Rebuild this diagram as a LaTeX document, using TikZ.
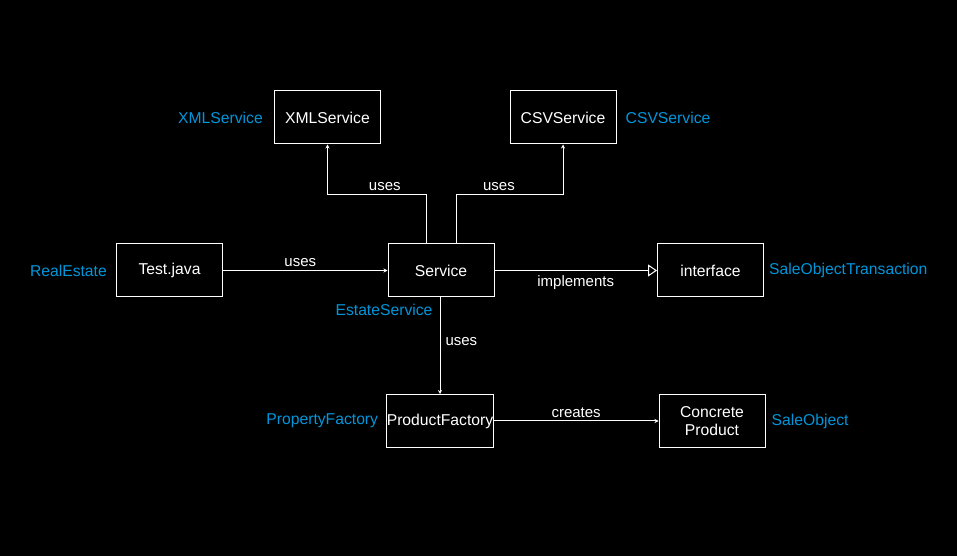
\documentclass[tikz,border=0pt]{standalone}
\usepackage{fontspec}
\setmainfont{Liberation Sans}
\usepackage{xcolor}
\usepackage{tikz}
\usetikzlibrary{arrows.meta, positioning}
\definecolor{nameblue}{RGB}{0, 150, 220}
\tikzset{
    boxnode/.style = {draw=white, rectangle, line width=1pt, text=white, minimum width=106pt, 
      minimum height=53pt, inner sep=0em, node distance=0em, align=center, 
      font=\fontsize{15.7}{17.5}\selectfont},
    namenode/.style = {draw=none, rectangle, text=nameblue, inner sep=0em, 
      font=\fontsize{15.7}{17.5}\selectfont},
    edgetext/.style = {draw=none, text=white, inner sep=0em, font=\fontsize{15}{17}\selectfont},
    uses/.style = {draw=white, line width=1pt, -{Stealth[length=4pt, width=4pt]}},
    realizes/.style = {draw=white, line width=1pt, -{Triangle[open, length=9pt, width=12pt]}}
}

\begin{document}
\begin{tikzpicture}[x=1pt, y=1pt]
\fill[black] (0,0) rectangle (957,556);
\useasboundingbox (0,0) rectangle (957,556);

\node[boxnode, name=service] at (441,285.5) {Service};
\node[boxnode, name=test, left of=service, xshift=-271.5pt] {Test.java};
\node[boxnode, name=xml, left of=service, xshift=-113.5pt, yshift=153pt] {XMLService};
\node[boxnode, name=csv, right of=service, xshift=122pt, yshift=153pt] {CSVService};
\node[boxnode, name=iface, right of=service, xshift=269.5pt] {interface};
\node[boxnode, name=factory, below of=service, xshift=-1pt, yshift=-150.5pt] {ProductFactory};
\node[boxnode, name=product, right of=factory, xshift=272pt] {Concrete\\Product};

% class names
\node[namenode, name=xmlname, left=11pt of xml] {XMLService};
\node[namenode, name=csvname, right=9pt of csv] {CSVService};
\node[namenode, name=testname, left=9pt of test] {RealEstate};
\node[namenode, name=servicename, below=6pt of service.south, xshift=-57pt] {EstateService};
\node[namenode, name=ifacename, right=5pt of iface] {SaleObjectTransaction};
\node[namenode, name=factoryname, left=8pt of factory] {PropertyFactory};
\node[namenode, name=productname, right=6pt of product] {SaleObject};

\draw (test) edge[uses] node[edgetext, midway, above=3pt, xshift=-5pt] {uses} (service);
\draw[uses] ([xshift=-14.7pt]service.north) -- ++(0,49) -| node[edgetext, pos=0.21, above=3pt] {uses} (xml);
\draw[uses] ([xshift=15.3pt]service.north) -- ++(0,49) -| node[edgetext, pos=0.2, above=3pt] {uses} (csv);
\draw (service) edge[realizes] node[edgetext, midway, below=5pt] {implements} (iface);
\draw[uses] (service.south -| factory.north) -- node[edgetext, midway, right=5pt, yshift=4pt] {uses} (factory.north);
\draw (factory) edge[uses] node[edgetext, midway, above=3pt] {creates} (product);
\end{tikzpicture}
\end{document}
